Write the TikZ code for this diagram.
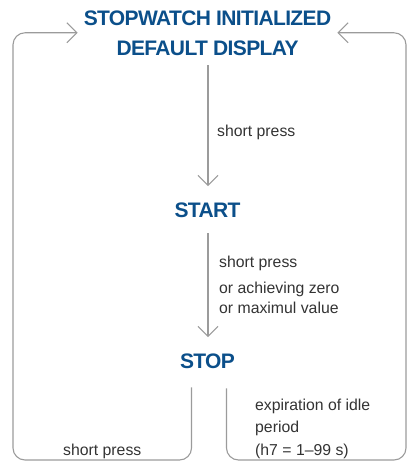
\documentclass[tikz,border=0pt]{standalone}
\usepackage{fontspec}
\setmainfont{Liberation Sans}
\newfontfamily\titlefont[LetterSpace=-3.0]{Liberation Sans}
\usetikzlibrary{arrows.meta,calc}
\definecolor{titleblue}{RGB}{11,79,138}
\definecolor{linegray}{RGB}{155,155,155}
\definecolor{textgray}{RGB}{51,51,51}
\begin{document}
\begin{tikzpicture}[x=1pt,y=-1pt,
  state/.style={font=\titlefont\fontsize{21}{30}\selectfont\bfseries, text=titleblue, inner ysep=0pt, inner xsep=0pt, align=center},
  conn/.style={draw=linegray, line width=1.1pt, -{Straight Barb[length=10pt,width=20pt,line width=1.1pt]}},
  loop/.style={conn, rounded corners=12pt},
  lab/.style={font=\fontsize{15.8}{22.5}\selectfont, text=textgray, inner sep=0pt, anchor=base west, align=left}]
\useasboundingbox (0,0) rectangle (411,461);
\node[state, inner xsep=6pt, anchor=base] (init) at (207.5,55) {STOPWATCH INITIALIZED\\DEFAULT DISPLAY};
\node[state, anchor=base] (start) at (207.5,217) {START};
\node[state, anchor=base] (stop) at (207.5,368) {STOP};
\coordinate (sl) at ($(stop.south)+(-16,19)$);
\coordinate (sr) at ($(stop.south)+(19,20)$);
\draw[conn, shorten <=10pt, shorten >=16pt] (init.south -| 208,0) -- (start.north -| 208,0);
\draw[conn, shorten <=16pt, shorten >=16pt] (start.south -| 208,0) -- (stop.north -| 208,0);
\draw[loop] (sl) |- (13,460) |- (init.west);
\draw[loop] (sr) |- (406,460) |- (init.east);
\node[lab] (l1) at (217,136) {short press};
\node[lab] (l2) at (219,267) {short press};
\node[lab] (l3) at (219,313) {or achieving zero\\[-2.5pt]or maximul value};
\node[lab] (l4) at (63,455) {short press};
\node[lab] (l5) at (255,455) {expiration of idle\\period\\(h7 = 1–99 s)};
\end{tikzpicture}
\end{document}
